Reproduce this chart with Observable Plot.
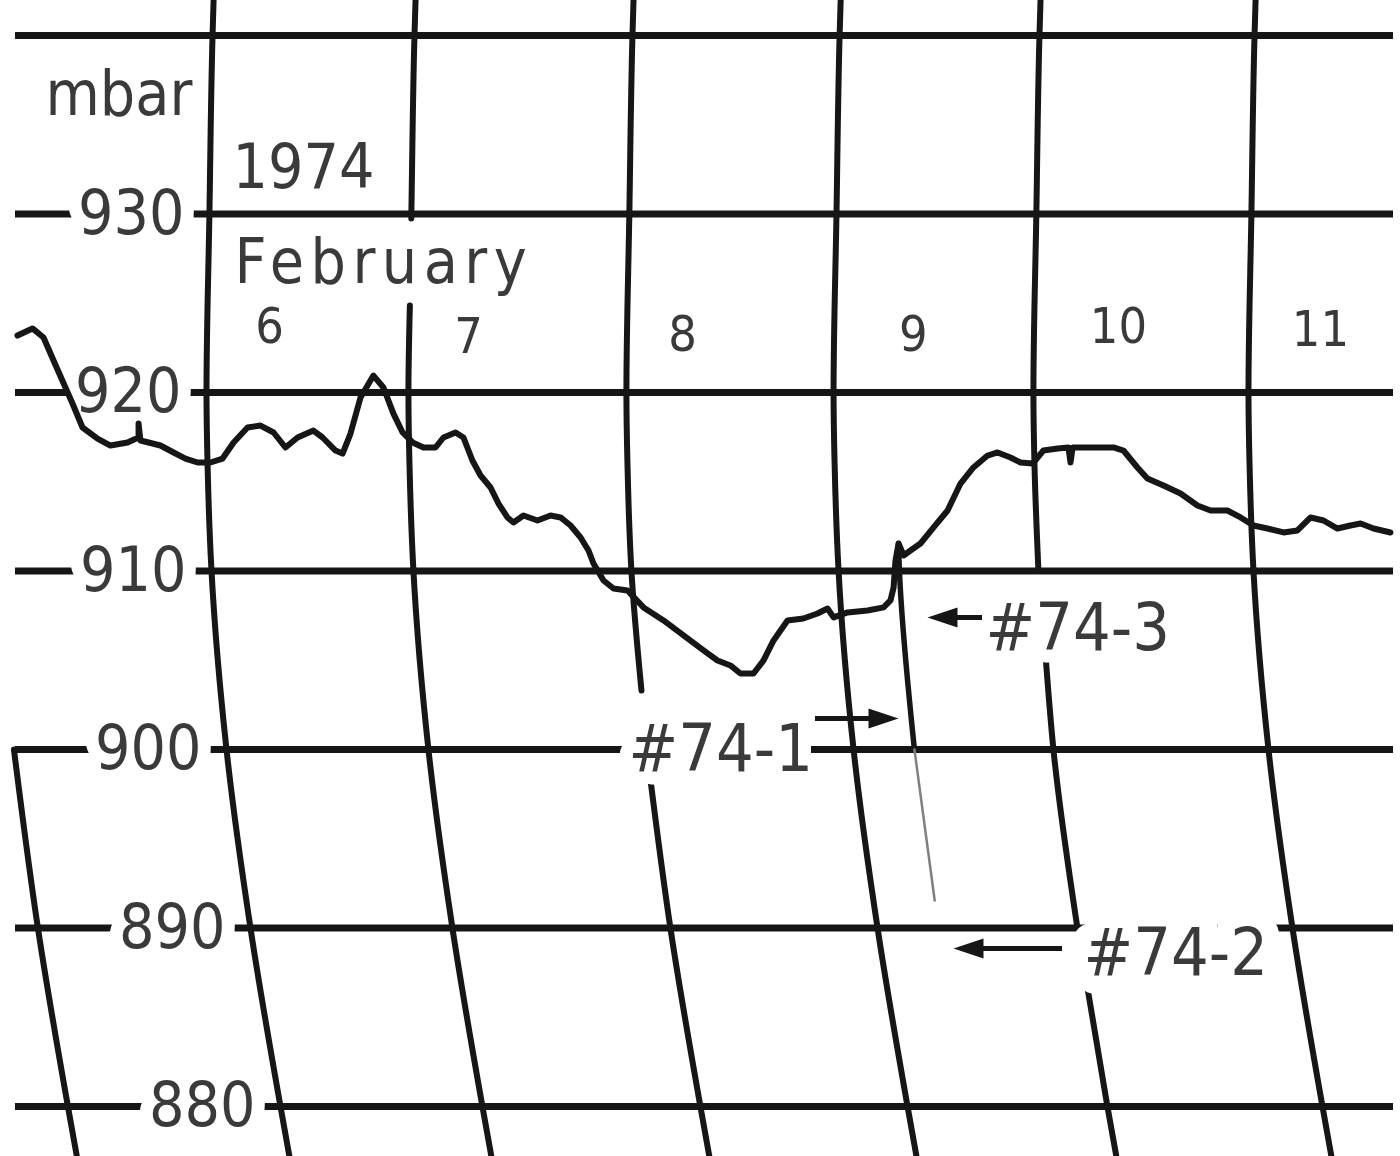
<!DOCTYPE html>
<html>
<head>
<meta charset="utf-8">
<script src="https://cdn.jsdelivr.net/npm/d3@7"></script>
<script src="https://cdn.jsdelivr.net/npm/@observablehq/plot@0.6"></script>
<style>
  html, body { margin: 0; padding: 0; background: #ffffff; }
  #chart svg { display: block; }
</style>
</head>
<body>
<div id="chart"></div>
<script>
// ---------------- data ----------------
// time along the chart in days of February 1974, pressure in mbar
const curveT = [5.093,5.165,5.218,5.266,5.323,5.357,5.405,5.477,5.539,5.621,
  5.674,5.674,5.683,5.722,5.779,5.842,5.899,5.957,6.019,6.077,
  6.130,6.197,6.259,6.322,6.379,6.437,6.513,6.557,6.619,6.653,
  6.691,6.739,6.801,6.849,6.897,6.941,6.989,7.041,7.099,7.137,
  7.195,7.233,7.276,7.315,7.363,7.401,7.444,7.473,7.521,7.588,
  7.651,7.699,7.747,7.795,7.833,7.857,7.905,7.953,8.020,8.097,
  8.193,8.289,8.385,8.452,8.514,8.562,8.625,8.673,8.721,8.788,
  8.864,8.932,8.980,9.009,9.076,9.172,9.249,9.282,9.297,9.306,
  9.321,9.345,9.378,9.426,9.489,9.556,9.618,9.680,9.748,9.796,
  9.858,9.906,9.964,10.016,10.084,10.136,10.146,10.156,10.194,10.275,
  10.352,10.400,10.467,10.515,10.592,10.674,10.755,10.818,10.899,10.962,
  11.024,11.091,11.168,11.235,11.298,11.360,11.427,11.489,11.538,11.600,
  11.681];
const curveP = [923.19,923.59,923.08,921.79,920.28,919.38,918.04,917.42,917.03,917.20,
  917.48,918.26,917.31,917.20,917.03,916.64,916.30,916.08,916.08,916.30,
  917.20,918.04,918.15,917.76,916.92,917.48,917.87,917.48,916.75,916.58,
  917.70,919.72,920.95,920.28,918.82,917.76,917.20,916.92,916.92,917.48,
  917.76,917.48,916.19,915.35,914.68,913.78,913.00,912.72,913.11,912.83,
  913.11,913.00,912.55,911.88,911.15,910.42,909.47,909.02,908.91,907.96,
  907.23,906.39,905.55,904.99,904.71,904.26,904.26,904.99,906.11,907.23,
  907.34,907.62,907.90,907.40,907.68,907.79,907.96,908.35,909.08,910.59,
  911.54,910.87,911.15,911.54,912.44,913.39,914.90,915.80,916.47,916.64,
  916.36,916.08,916.02,916.75,916.86,916.92,916.08,916.92,916.92,916.92,
  916.92,916.75,915.80,915.18,914.79,914.34,913.67,913.39,913.39,913.00,
  912.55,912.38,912.16,912.27,913.00,912.83,912.38,912.55,912.66,912.38,
  912.16];

// pressure grid
const pressureLines = [940, 930, 920, 910, 900, 890, 880];
const pressureTicks = [930, 920, 910, 900, 890, 880];

// day (midnight) arcs of the chart paper, position at the 920 mbar line
const dayLineT = [4.98, 6.000, 6.969, 8.015, 9.009, 9.968, 11.000];
// drawn extents of each arc [top mbar, bottom mbar]
const dayLineSpans = [
  [[900, 877.2]],
  [[941.96, 877.2]],
  [[941.96, 929.75], [924.87, 877.2]],
  [[941.96, 903.31], [898.54, 877.2]],
  [[941.96, 877.2]],
  [[941.96, 910], [905.10, 890], [886.95, 877.2]],
  [[941.96, 877.2]]
];
// arc shape of the pen: shift of a time line (days) at each pressure
const arcLevels = [877.2, 880, 890, 900, 910, 916, 920, 930, 940, 941.96];
const arcShift  = [0.398, 0.355, 0.211, 0.096, 0.024, 0.005, 0, 0.014, 0.029, 0.034];

const dayLabels = ["6", "7", "8", "9", "10", "11"];
const dayLabelT = [6.302, 7.257, 8.284, 9.392, 10.376, 11.345];
const dayLabelP = [922.75, 922.24, 922.35, 922.35, 922.75, 922.63];

// release marks (#74-1..3)
const eventT = 9.301;
const eventThickSpan = [911.54, 900];
const eventThinSpan = [900, 891.54];
const arrowLabels = ["#74-1", "#74-2", "#74-3"];
const arrowHeadT = [9.2485, 9.6564, 9.5317];
const arrowTailT = [8.9222, 10.1075, 9.7236];
const arrowP     = [901.74, 888.85, 907.40];
const arrowRot   = [0, 180, 180];
const arrowTextT = [8.025, 10.208, 9.738];
const arrowTextP = [898.82, 887.34, 905.55];

// ---------------- derived tables ----------------
const curve = curveT.map((t, i) => ({t, p: curveP[i]}));
const shift = d3.scaleLinear().domain(arcLevels).range(arcShift);
function arcPoints(t0, pTop, pBot, id) {
  const ps = [pTop, ...arcLevels.filter(p => p < pTop && p > pBot).reverse(), pBot];
  return ps.map(p => ({id, t: t0 + shift(p), p}));
}
const arcs = [];
dayLineT.forEach((t0, i) => dayLineSpans[i].forEach((s, j) => arcs.push(...arcPoints(t0, s[0], s[1], `d${i}-${j}`))));
const eventThick = arcPoints(eventT, eventThickSpan[0], eventThickSpan[1], "ev1");
const eventThin = arcPoints(eventT, eventThinSpan[0], eventThinSpan[1], "ev2");
const ticks = pressureTicks.map(p => ({p, label: String(p), t: 6 + shift(p) - 0.12}));
const days = dayLabels.map((d, i) => ({label: d, t: dayLabelT[i], p: dayLabelP[i]}));
const arrows = arrowLabels.map((l, i) => ({label: l, head: arrowHeadT[i], tail: arrowTailT[i], p: arrowP[i],
  rot: arrowRot[i], tt: arrowTextT[i], tp: arrowTextP[i]}));

const headSymbol = {
  draw(ctx, size) {
    const r = Math.sqrt(size / Math.PI);
    ctx.moveTo(1.5 * r, 0);
    ctx.lineTo(-1.5 * r, -r);
    ctx.lineTo(-1.5 * r, r);
    ctx.closePath();
  }
};

const INK = "#161616";
const TXT = "#3a3a3a";
const FONT = "'DejaVu Sans Condensed', 'DejaVu Sans', sans-serif";

const chart = Plot.plot({
  width: 1400,
  height: 1156,
  margin: 0,
  style: "background:#ffffff; font-stretch: condensed;",
  x: {domain: [5.0115, 11.7294], axis: null},
  y: {domain: [877.2, 941.961], axis: null},
  marks: [
    Plot.ruleY(pressureLines, {y: d => d, x1: 5.0835, x2: 11.6958, stroke: INK, strokeWidth: 7}),
    Plot.line(arcs, {x: "t", y: "p", z: "id", curve: "monotone-y", stroke: INK, strokeWidth: 6}),
    Plot.line(eventThick, {x: "t", y: "p", curve: "monotone-y", stroke: INK, strokeWidth: 5.5}),
    Plot.line(eventThin, {x: "t", y: "p", curve: "monotone-y", stroke: "#808080", strokeWidth: 2.5}),
    Plot.text(ticks, {x: "t", y: "p", text: "label", textAnchor: "end", lineAnchor: "middle",
      fontFamily: FONT, fontSize: 62, fill: TXT, stroke: "#ffffff", strokeWidth: 26}),
    Plot.text(arrows, {x: "tt", y: "tp", text: "label", textAnchor: "start", lineAnchor: "bottom",
      fontFamily: FONT, fontSize: 66, fill: TXT, stroke: "#ffffff",
      strokeWidth: d => d.label === "#74-2" ? 36 : 26}),
    Plot.line(curve, {x: "t", y: "p", stroke: INK, strokeWidth: 6, strokeLinejoin: "round", strokeLinecap: "round"}),
    Plot.ruleY(arrows, {y: "p", x1: "tail", x2: "head", stroke: INK, strokeWidth: 5}),
    Plot.dot(arrows, {x: "head", y: "p", symbol: headSymbol, r: 10, rotate: "rot", fill: INK, stroke: "none"}),
    Plot.text(["mbar"], {x: 5.2274, y: 935.52, text: d => d, textAnchor: "start", lineAnchor: "bottom",
      fontFamily: FONT, fontSize: 62, fill: TXT}),
    Plot.text(["1974"], {x: 6.125, y: 931.43, text: d => d, textAnchor: "start", lineAnchor: "bottom",
      fontFamily: FONT, fontSize: 62, fill: TXT}),
    Plot.text(["February"], {x: 6.134, y: 926.11, text: d => d, textAnchor: "start", lineAnchor: "bottom",
      fontFamily: FONT, fontSize: 62, fill: TXT}),
    Plot.text(days, {x: "t", y: "p", text: "label", textAnchor: "middle", lineAnchor: "bottom",
      fontFamily: FONT, fontSize: 50, fill: TXT})
  ]
});

d3.select(chart).selectAll("text").filter(function() { return this.textContent === "February"; })
  .attr("letter-spacing", "6.5px");

document.getElementById("chart").appendChild(chart);
</script>
</body>
</html>
